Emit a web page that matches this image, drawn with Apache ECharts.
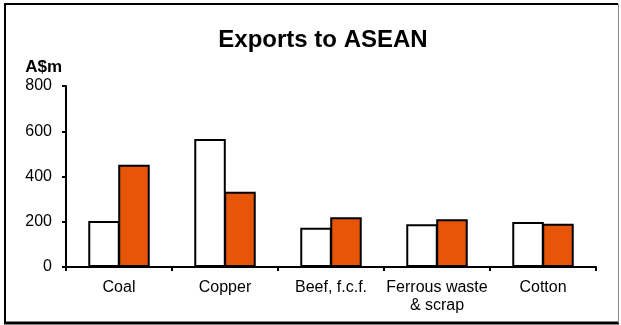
<!DOCTYPE html>
<html>
<head>
<meta charset="utf-8">
<script src="https://cdn.jsdelivr.net/npm/echarts@6/dist/echarts.min.js"></script>
<style>
  html, body { margin: 0; padding: 0; background: #fff; }
  #chart { width: 621px; height: 325px; }
</style>
</head>
<body>
<div id="chart"></div>
<script>
// Chart data
const categories = ['Coal', 'Copper', 'Beef, f.c.f.', 'Ferrous waste\n& scrap', 'Cotton'];
const seriesA = [203, 566, 174, 189, 199];   // white bars
const seriesB = [452, 333, 220, 211, 191];   // orange bars
const yTicks = [0, 200, 400, 600, 800];

const chart = echarts.init(document.getElementById('chart'), null, { renderer: 'canvas' });

const font = 'Liberation Sans, Arial, sans-serif';

chart.setOption({
    animation: false,
    backgroundColor: '#fff',
    title: {
        text: 'Exports to ASEAN',
        left: 318,
        textAlign: 'center',
        top: 23,
        textStyle: { fontFamily: font, fontSize: 24, fontWeight: 'bold', color: '#000' }
    },
    grid: { left: 66, right: 25, top: 86, bottom: 58 },
    xAxis: {
        type: 'category',
        data: categories,
        axisLine: { lineStyle: { color: '#000', width: 2 } },
        axisTick: { show: true, length: 4, lineStyle: { color: '#000', width: 2 } },
        axisLabel: { fontFamily: font, fontSize: 16, color: '#000', margin: 12, lineHeight: 18, interval: 0 }
    },
    yAxis: {
        type: 'value',
        min: yTicks[0],
        max: yTicks[yTicks.length - 1],
        interval: 200,
        name: 'A$m',
        nameLocation: 'end',
        nameGap: 10,
        nameTextStyle: { fontFamily: font, fontSize: 17, fontWeight: 'bold', color: '#000', align: 'right', padding: [0, 4, 0, 0] },
        axisLine: { show: true, lineStyle: { color: '#000', width: 2 } },
        axisTick: { show: true, length: 4, lineStyle: { color: '#000', width: 2 } },
        axisLabel: { fontFamily: font, fontSize: 16, color: '#000', margin: 14 },
        splitLine: { show: false }
    },
    series: [
        {
            type: 'bar',
            data: seriesA,
            barGap: '-5%',
            barCategoryGap: '42%',
            itemStyle: { color: '#fff', borderColor: '#000', borderWidth: 2 }
        },
        {
            type: 'bar',
            data: seriesB,
            barGap: '-5%',
            barCategoryGap: '42%',
            itemStyle: { color: '#E65508', borderColor: '#000', borderWidth: 2 }
        }
    ],
    graphic: [
        { type: 'line', shape: { x1: 5, y1: 4, x2: 618, y2: 4 }, style: { stroke: '#000', lineWidth: 2 } },
        { type: 'line', shape: { x1: 5, y1: 3, x2: 5, y2: 323 }, style: { stroke: '#000', lineWidth: 2 } },
        { type: 'line', shape: { x1: 4, y1: 323, x2: 619, y2: 323 }, style: { stroke: '#000', lineWidth: 3 } },
        { type: 'line', shape: { x1: 618.5, y1: 4, x2: 618.5, y2: 323 }, style: { stroke: '#888', lineWidth: 1 } }
    ]
});
</script>
</body>
</html>
